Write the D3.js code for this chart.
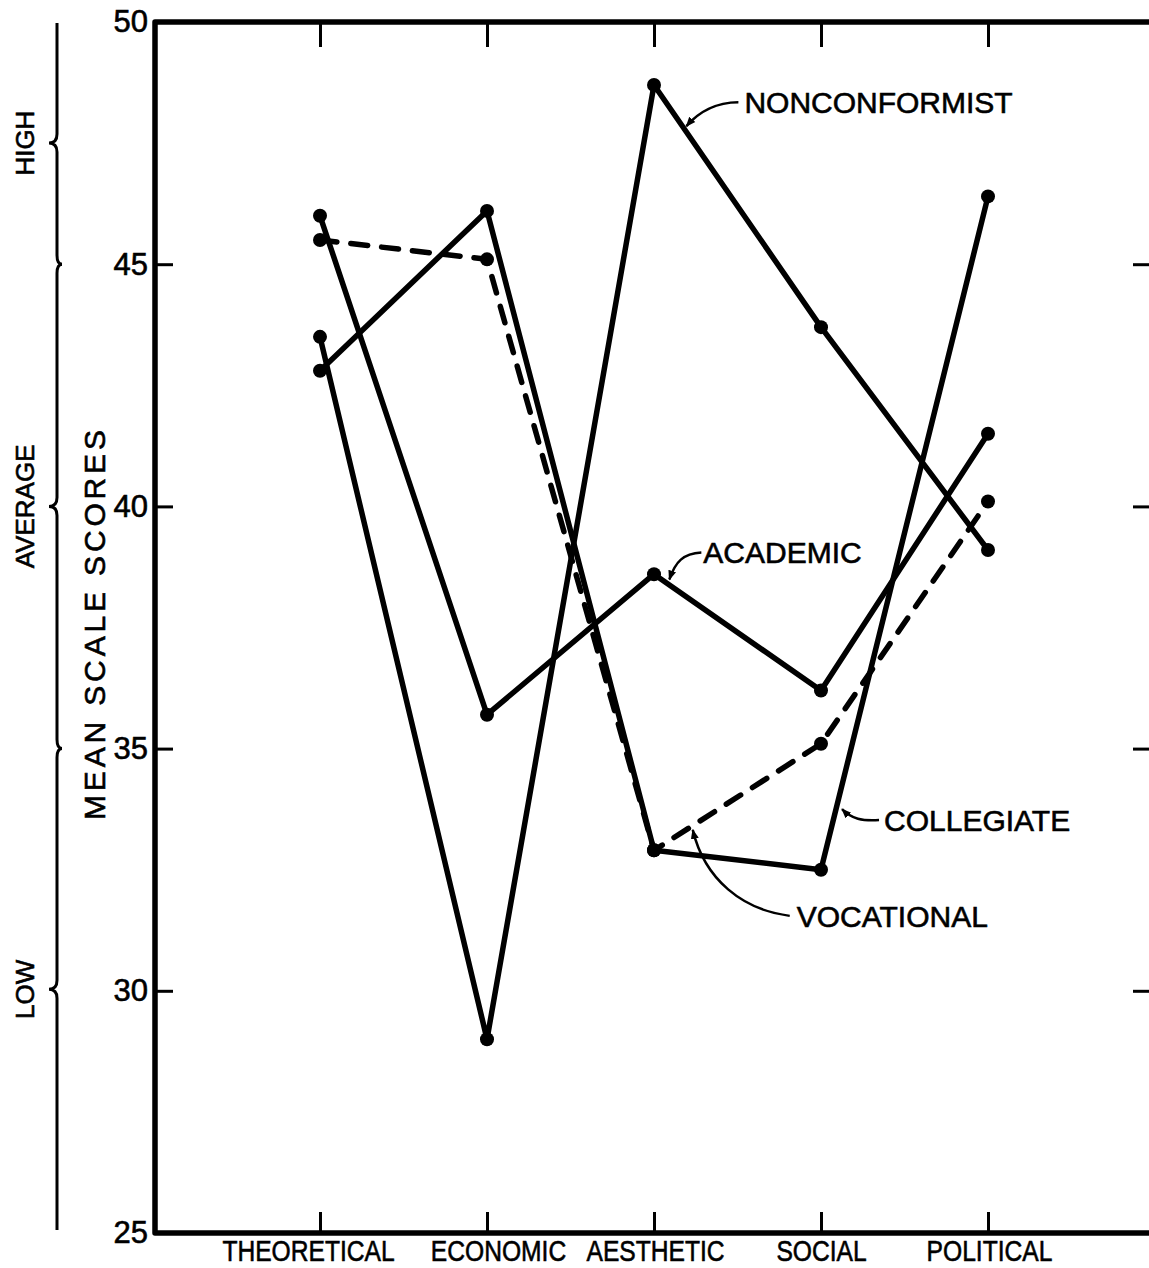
<!DOCTYPE html>
<html>
<head>
<meta charset="utf-8">
<script src="https://cdn.jsdelivr.net/npm/d3@7/dist/d3.min.js"></script>
<style>
  html, body { margin: 0; padding: 0; background: #fff; }
  svg { display: block; }
  text { fill: #000; font-family: "Liberation Sans", Arial, sans-serif; stroke: #000; stroke-width: 0.6px; }
</style>
</head>
<body>
<svg id="chart" width="1149" height="1268"></svg>
<script>
// ---------------- DATA ----------------
const categories = ["THEORETICAL", "ECONOMIC", "AESTHETIC", "SOCIAL", "POLITICAL"];
const nonconformist = [43.5, 29.0, 48.7, 43.7, 39.1];
const academic      = [46.0, 35.7, 38.6, 36.2, 41.5];
const collegiate    = [42.8, 46.1, 32.9, 32.5, 46.4];
const vocational    = [45.5, 45.1, 32.9, 35.1, 40.1];
const seriesNames   = ["NONCONFORMIST", "ACADEMIC", "COLLEGIATE", "VOCATIONAL"];
const yTicks        = [25, 30, 35, 40, 45, 50];
const bandLabels    = ["HIGH", "AVERAGE", "LOW"];
const bandLow       = [45, 35, 25];
const bandHigh      = [50, 45, 35];
const yTitle        = "MEAN  SCALE  SCORES";

// ---------------- LAYOUT ----------------
const svg = d3.select("#chart");
const mLeft = 155, mTop = 22, mBottom = 1233, rightEdge = 1152;
const y = d3.scaleLinear().domain([25, 50]).range([mBottom, mTop]);
const x = d3.scalePoint().domain(categories).range([320, 988]);

const series = [
  { name: seriesNames[0], values: nonconformist, dashed: false },
  { name: seriesNames[1], values: academic, dashed: false },
  { name: seriesNames[2], values: collegiate, dashed: false },
  { name: seriesNames[3], values: vocational, dashed: true }
];

// ---------------- FRAME / AXES ----------------
const yAxis = d3.axisLeft(y).tickValues(yTicks).tickSizeInner(-18).tickSizeOuter(0).tickPadding(7);
const gy = svg.append("g").attr("transform", `translate(${mLeft},0)`).call(yAxis);
gy.select(".domain").remove();
gy.selectAll(".tick line").attr("stroke", "#000").attr("stroke-width", 3);
gy.selectAll(".tick text").attr("font-size", 31).attr("fill", "#000")
  .attr("font-family", "'Liberation Sans', Arial, sans-serif");

// right side ticks
const yAxisR = d3.axisRight(y).tickValues(yTicks.filter(d => d > 25 && d < 50)).tickSizeInner(-19).tickSizeOuter(0).tickFormat("");
const gyr = svg.append("g").attr("transform", `translate(${rightEdge},0)`).call(yAxisR);
gyr.select(".domain").remove();
gyr.selectAll(".tick line").attr("stroke", "#000").attr("stroke-width", 3);

// bottom axis
const labelShift = { "THEORETICAL": -12, "ECONOMIC": 11, "AESTHETIC": 1, "SOCIAL": 0, "POLITICAL": 1 };
const xAxis = d3.axisBottom(x).tickSizeInner(-21).tickSizeOuter(0).tickPadding(7);
const gx = svg.append("g").attr("transform", `translate(0,${mBottom})`).call(xAxis);
gx.select(".domain").remove();
gx.selectAll(".tick line").attr("stroke", "#000").attr("stroke-width", 3);
gx.selectAll(".tick text").attr("font-size", 30).attr("fill", "#000")
  .attr("font-family", "'Liberation Sans', Arial, sans-serif")
  .attr("dx", d => labelShift[d])
  .each(function() {
    const w = this.getComputedTextLength();
    d3.select(this).attr("textLength", w * 0.82).attr("lengthAdjust", "spacingAndGlyphs");
  });

// top ticks
const xAxisTop = d3.axisTop(x).tickSizeInner(-25).tickSizeOuter(0).tickFormat("");
const gxt = svg.append("g").attr("transform", `translate(0,${mTop})`).call(xAxisTop);
gxt.select(".domain").remove();
gxt.selectAll(".tick line").attr("stroke", "#000").attr("stroke-width", 3);

// frame lines
svg.append("path")
  .attr("d", `M${rightEdge + 10},${mTop} H${mLeft} V${mBottom} H${rightEdge + 10}`)
  .attr("fill", "none").attr("stroke", "#000").attr("stroke-width", 5.5)
  .attr("stroke-linejoin", "round");

// ---------------- SERIES ----------------
const line = d3.line().x((d, i) => x(categories[i])).y(d => y(d));
const gs = svg.append("g");
series.forEach(s => {
  gs.append("path").datum(s.values)
    .attr("d", line)
    .attr("fill", "none").attr("stroke", "#000").attr("stroke-width", 5.5)
    .attr("stroke-linejoin", "round")
    .attr("stroke-linecap", s.dashed ? "round" : "butt")
    .attr("stroke-dasharray", s.dashed ? "17,14" : null);
  gs.selectAll(null).data(s.values).enter().append("circle")
    .attr("cx", (d, i) => x(categories[i])).attr("cy", d => y(d))
    .attr("r", 7).attr("fill", "#000");
});

// ---------------- LABELS WITH LEADERS ----------------
svg.append("defs").append("marker")
  .attr("id", "arr").attr("viewBox", "0 0 10 10").attr("refX", 9).attr("refY", 5)
  .attr("markerWidth", 4).attr("markerHeight", 4).attr("orient", "auto")
  .append("path").attr("d", "M0,1 L10,5 L0,9 Z").attr("fill", "#000");

function pointOn(vals, i, t) {
  const x0 = x(categories[i]), y0 = y(vals[i]);
  const x1 = x(categories[i + 1]), y1 = y(vals[i + 1]);
  return [x0 + (x1 - x0) * t, y0 + (y1 - y0) * t];
}

const ann = [
  { text: seriesNames[0], vals: nonconformist, seg: 2, t: 0.17, off: [4, 0],
    from: [52, -24], c1: [30, -24], c2: [12, -14], tx: 58, ty: -24 },
  { text: seriesNames[1], vals: academic, seg: 2, t: 0.08, off: [2, -4],
    from: [32, -27], c1: [14, -26], c2: [6, -18], tx: 34, ty: -27 },
  { text: seriesNames[2], vals: collegiate, seg: 3, t: 0.09, off: [6, 0],
    from: [37, 11], c1: [20, 12], c2: [10, 10], tx: 42, ty: 11 },
  { text: seriesNames[3], vals: vocational, seg: 2, t: 0.22, off: [2, 3],
    from: [97, 86], c1: [50, 80], c2: [12, 50], tx: 104, ty: 86 }
];

ann.forEach(a => {
  const p = pointOn(a.vals, a.seg, a.t);
  const tip = [p[0] + a.off[0], p[1] + a.off[1]];
  const st = [tip[0] + a.from[0], tip[1] + a.from[1]];
  svg.append("path")
    .attr("d", `M${st[0]},${st[1]} C${tip[0] + a.c1[0]},${tip[1] + a.c1[1]} ${tip[0] + a.c2[0]},${tip[1] + a.c2[1]} ${tip[0]},${tip[1]}`)
    .attr("fill", "none").attr("stroke", "#000").attr("stroke-width", 2.5)
    .attr("marker-end", "url(#arr)");
  svg.append("text")
    .attr("x", tip[0] + a.tx).attr("y", tip[1] + a.ty)
    .attr("dy", "0.36em")
    .attr("font-size", 30)
    .text(a.text);
});

// ---------------- Y TITLE ----------------
svg.append("text")
  .attr("transform", `translate(105,${625}) rotate(-90)`)
  .attr("text-anchor", "middle")
  .attr("font-size", 30)
  .attr("textLength", 390).attr("lengthAdjust", "spacing")
  .text(yTitle);

// ---------------- BRACES (HIGH / AVERAGE / LOW) ----------------
const bx = 57;
bandLabels.forEach((lab, i) => {
  const y0 = y(bandHigh[i]), y1 = y(bandLow[i]) - (bandLow[i] === 25 ? 3 : 0), ym = (y0 + y1) / 2;
  const topCurl = bandHigh[i] !== 50, botCurl = bandLow[i] !== 25;
  let d = topCurl ? `M${bx + 5},${y0} Q${bx},${y0} ${bx},${y0 + 9}` : `M${bx},${y0 + 1}`;
  d += ` L${bx},${ym - 9} Q${bx},${ym} ${bx - 8},${ym} Q${bx},${ym} ${bx},${ym + 9}`;
  d += botCurl ? ` L${bx},${y1 - 9} Q${bx},${y1} ${bx + 5},${y1}` : ` L${bx},${y1}`;
  svg.append("path").attr("d", d).attr("fill", "none")
    .attr("stroke", "#000").attr("stroke-width", 3);
  svg.append("text")
    .attr("transform", `translate(25,${ym}) rotate(-90)`)
    .attr("text-anchor", "middle").attr("dy", "0.36em")
    .attr("font-size", 26)
    .text(lab);
});
</script>
</body>
</html>
